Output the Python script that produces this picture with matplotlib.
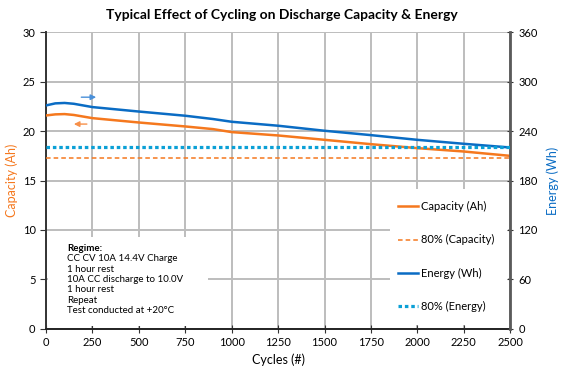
import matplotlib.pyplot as plt
from matplotlib.patches import Rectangle

plt.rcParams['font.family'] = ['Lato', 'DejaVu Sans']

# data
cycles = [0, 50, 100, 150, 250, 500, 750, 900, 1000, 1250, 1500, 1750, 2000, 2250, 2500]
capacity = [21.57, 21.68, 21.71, 21.62, 21.30, 20.86, 20.46, 20.19, 19.89, 19.55, 19.11, 18.67, 18.27, 17.93, 17.49]
energy = [271, 273.5, 274, 273, 269, 263.6, 258.5, 254.5, 251.2, 246.4, 240.3, 235, 229.3, 224.5, 220]
cap_80 = 17.25
energy_80 = 221

regime = ["CC CV 10A 14.4V Charge", "1 hour rest", "10A CC discharge to 10.0V",
          "1 hour rest", "Repeat", "Test conducted at +20°C"]

orange = '#F5781E'
blue = '#0A6CC4'
cyan = '#0BA0D6'
grid_c = '#BDBDBD'

fig = plt.figure(figsize=(5.64, 3.68), dpi=100)
ax = fig.add_axes([0.0816, 0.106, 0.823, 0.807])
ax2 = ax.twinx()

ax.set_xlim(0, 2500)
ax.set_ylim(0, 30)
ax2.set_ylim(0, 360)
ax.set_xticks(range(0, 2501, 250))
ax.set_yticks(range(0, 31, 5))
ax2.set_yticks(range(0, 361, 60))
ax.set_axisbelow(True)
ax.grid(True, color=grid_c, lw=1.4)

for a in (ax, ax2):
    a.spines['top'].set_visible(False)
ax.spines['left'].set_color('#333333')
ax.spines['left'].set_linewidth(1.4)
ax.spines['bottom'].set_color('#222222')
ax.spines['bottom'].set_linewidth(1.4)
ax2.spines['right'].set_color('#5a5a5a')
ax2.spines['right'].set_linewidth(2)
ax2.spines['left'].set_visible(False)
ax2.spines['bottom'].set_visible(False)

ax.tick_params(axis='x', direction='inout', length=6, labelsize=8, color='#333333', pad=3)
ax.tick_params(axis='y', direction='out', length=4, labelsize=8, color='#333333')
ax2.tick_params(axis='y', direction='inout', length=5, labelsize=8, color='#333333')

# white boxes covering the grid (regime note and legend)
ax.add_patch(Rectangle((0.005, 0.01), 0.345, 0.30, transform=ax.transAxes,
                       facecolor='white', edgecolor='none', zorder=1))
ax.add_patch(Rectangle((0.74, 0.015), 0.255, 0.455, transform=ax.transAxes,
                       facecolor='white', edgecolor='none', zorder=1))

ax.plot(cycles, capacity, color=orange, lw=1.8, zorder=3)
ax.axhline(cap_80, color=orange, lw=1.1, ls=(0, (3, 2)), zorder=3)
ax2.plot(cycles, energy, color=blue, lw=1.8, zorder=3)
ax2.axhline(energy_80, color=cyan, lw=2.3, ls=(0, (1.1, 0.9)), zorder=3)

h1, = ax.plot([], [], color=orange, lw=1.8, label='Capacity (Ah)')
h2, = ax.plot([], [], color=orange, lw=1.1, ls=(0, (3, 2)), label='80% (Capacity)')
h3, = ax.plot([], [], color=blue, lw=1.8, label='Energy (Wh)')
h4, = ax.plot([], [], color=cyan, lw=2.3, ls=(0, (1.1, 0.9)), label='80% (Energy)')
ax2.legend(handles=[h1, h2, h3, h4], loc='upper left', bbox_to_anchor=(0.724, 0.483),
           fontsize=8, frameon=False, handlelength=1.8, handletextpad=0.3,
           labelspacing=2.0, borderpad=0.9)

# arrows pointing to the axes
ax2.annotate('', xy=(285, 281), xytext=(175, 281),
             arrowprops=dict(arrowstyle='-|>', color='#4a90d9', lw=1, mutation_scale=8))
ax.annotate('', xy=(135, 20.7), xytext=(235, 20.7),
            arrowprops=dict(arrowstyle='-|>', color='#f7904a', lw=1, mutation_scale=8))

ax.text(0.045, 0.287, 'Regime:', transform=ax.transAxes, fontsize=7,
        fontweight='bold', va='top', zorder=4)
for i, line in enumerate(regime):
    ax.text(0.045, 0.287 - (i + 1) * 0.035, line, transform=ax.transAxes,
            fontsize=7, va='top', zorder=4)

ax.set_xlabel('Cycles (#)', fontsize=9, labelpad=4)
ax.set_ylabel('Capacity (Ah)', fontsize=9, color=orange, labelpad=3)
ax2.set_ylabel('Energy (Wh)', fontsize=9, color=blue, rotation=90, labelpad=6)
fig.suptitle('Typical Effect of Cycling on Discharge Capacity & Energy',
             fontsize=10, fontweight='bold', y=0.975)

fig.savefig('out.png', dpi=100)
